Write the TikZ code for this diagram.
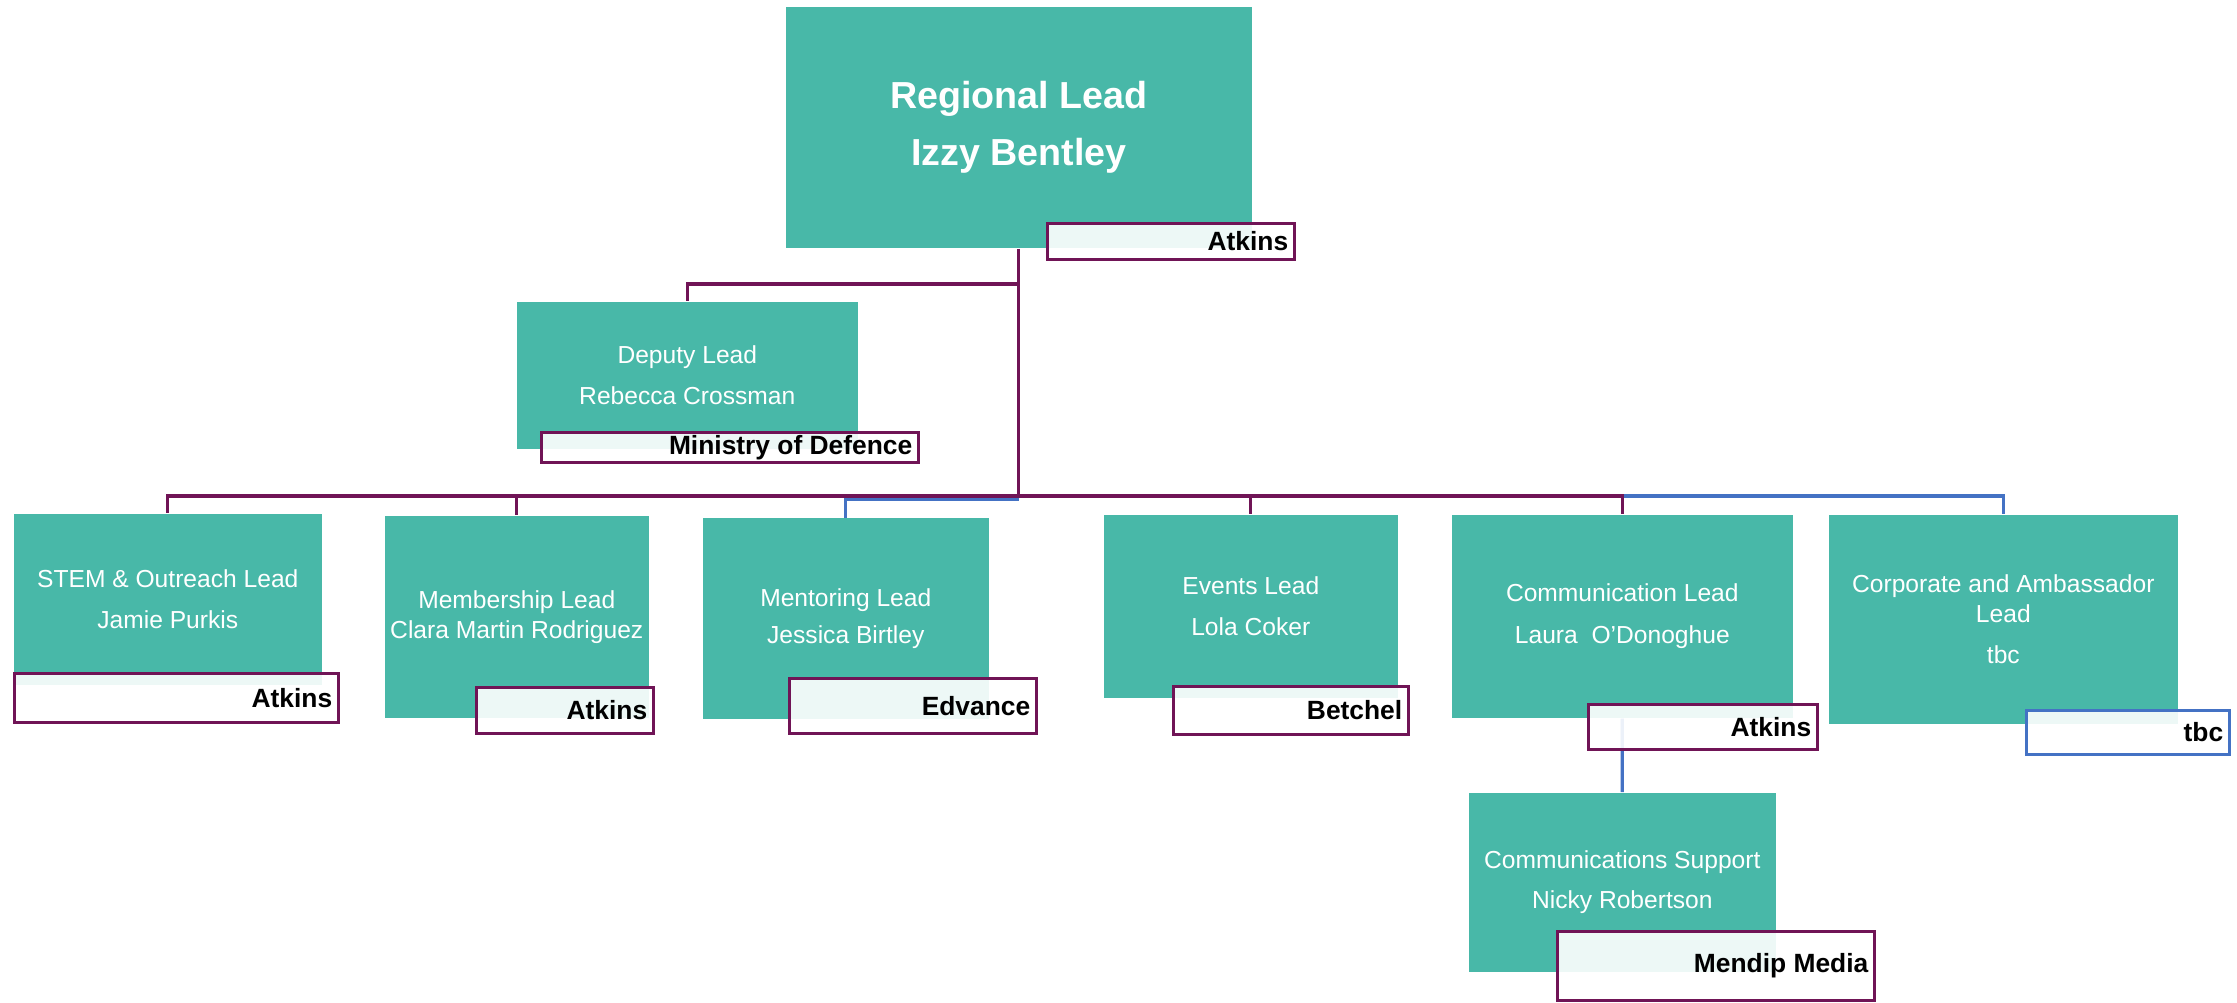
\documentclass[tikz,border=0pt]{standalone}
\usepackage{fontspec}
\setmainfont{Liberation Sans}
\usetikzlibrary{backgrounds}
\definecolor{boxteal}{HTML}{48B8A8}
\definecolor{linepurple}{HTML}{701456}
\definecolor{lineblue}{HTML}{4472C4}
\begin{document}
\begin{tikzpicture}[x=0.01cm,y=-0.01cm]
\tikzstyle{role} = [anchor=north west, fill=boxteal, text=white, align=center, inner sep=0pt, font=\fontsize{7}{8.5}\selectfont]
\tikzstyle{company} = [anchor=north west, draw=linepurple, line width=0.8pt, fill=white, fill opacity=0.9, inner sep=0pt]
\tikzstyle{firm} = [anchor=east, inner xsep=2pt, text opacity=1, font=\bfseries\fontsize{7.5}{9}\selectfont]
\tikzstyle{link} = [draw=linepurple, line width=0.9pt]
\tikzstyle{bluelink} = [draw=lineblue, line width=0.9pt]
\useasboundingbox (0,0) rectangle (2237,1002);

% roles
\node[role, minimum width=4.66cm, minimum height=2.41cm, font=\bfseries\fontsize{10.7}{13}\selectfont] (lead) at (785,6) {Regional Lead\\[3pt]Izzy Bentley};
\node[role, minimum width=3.41cm, minimum height=1.47cm] (deputy) at (516,301) {Deputy Lead\\[3.4pt]Rebecca Crossman};
\node[role, minimum width=3.08cm, minimum height=1.71cm] (stem) at (13,513) {STEM \& Outreach Lead\\[3pt]Jamie Purkis};
\node[role, minimum width=2.64cm, minimum height=2.02cm] (membership) at (384,515) {Membership Lead\\Clara Martin Rodriguez};
\node[role, minimum width=2.86cm, minimum height=2.01cm] (mentoring) at (702,517) {Mentoring Lead\\[2pt]Jessica Birtley};
\node[role, minimum width=2.94cm, minimum height=1.83cm] (events) at (1103,514) {Events Lead\\[3pt]Lola Coker};
\node[role, minimum width=3.41cm, minimum height=2.03cm] (comms) at (1451,514) {Communication Lead\\[3.4pt]Laura \ O'Donoghue};
\node[role, minimum width=3.49cm, minimum height=2.09cm] (corporate) at (1828,514) {Corporate and Ambassador\\Lead\\[3.4pt]tbc};
\node[role, minimum width=3.07cm, minimum height=1.79cm] (support) at (1468,792) {Communications Support\\[3pt]Nicky Robertson};

% organisations
\node[company, minimum width=2.47cm, minimum height=0.36cm, label={[firm]east:Atkins}] (leadorg) at (1046,222) {};
\node[company, minimum width=3.77cm, minimum height=0.30cm, label={[firm]east:Ministry of Defence}] (deputyorg) at (540,431) {};
\node[company, minimum width=3.24cm, minimum height=0.49cm, label={[firm]east:Atkins}] (stemorg) at (13,672) {};
\node[company, minimum width=1.77cm, minimum height=0.46cm, label={[firm]east:Atkins}] (membershiporg) at (475,686) {};
\node[company, minimum width=2.47cm, minimum height=0.55cm, label={[firm]east:Edvance}] (mentoringorg) at (788,677) {};
\node[company, minimum width=2.35cm, minimum height=0.48cm, label={[firm]east:Betchel}] (eventsorg) at (1172,685) {};
\node[company, minimum width=2.29cm, minimum height=0.45cm, label={[firm]east:Atkins}] (commsorg) at (1587,703) {};
\node[company, draw=lineblue, minimum width=2.03cm, minimum height=0.44cm, label={[firm]east:tbc}] (corporateorg) at (2025,709) {};
\node[company, minimum width=3.17cm, minimum height=0.69cm, label={[firm]east:Mendip Media}] (supportorg) at (1556,930) {};

\coordinate (depbar) at (0,284);
\coordinate (bar) at (0,496);
\begin{scope}[on background layer]
\draw[bluelink] (lead.south |- bar) -| (corporate.north);
\draw[bluelink, transform canvas={yshift=-1pt}] (lead.south |- bar) -| (mentoring.north);
\draw[bluelink] (comms.south) -- (support.north);
\draw[link] (lead.south) -- (lead.south |- bar);
\draw[link] (lead.south |- depbar) -| (deputy.north);
\foreach \n in {stem,membership,events,comms}
  \draw[link] (lead.south |- bar) -| (\n.north);
\end{scope}
\end{tikzpicture}
\end{document}
